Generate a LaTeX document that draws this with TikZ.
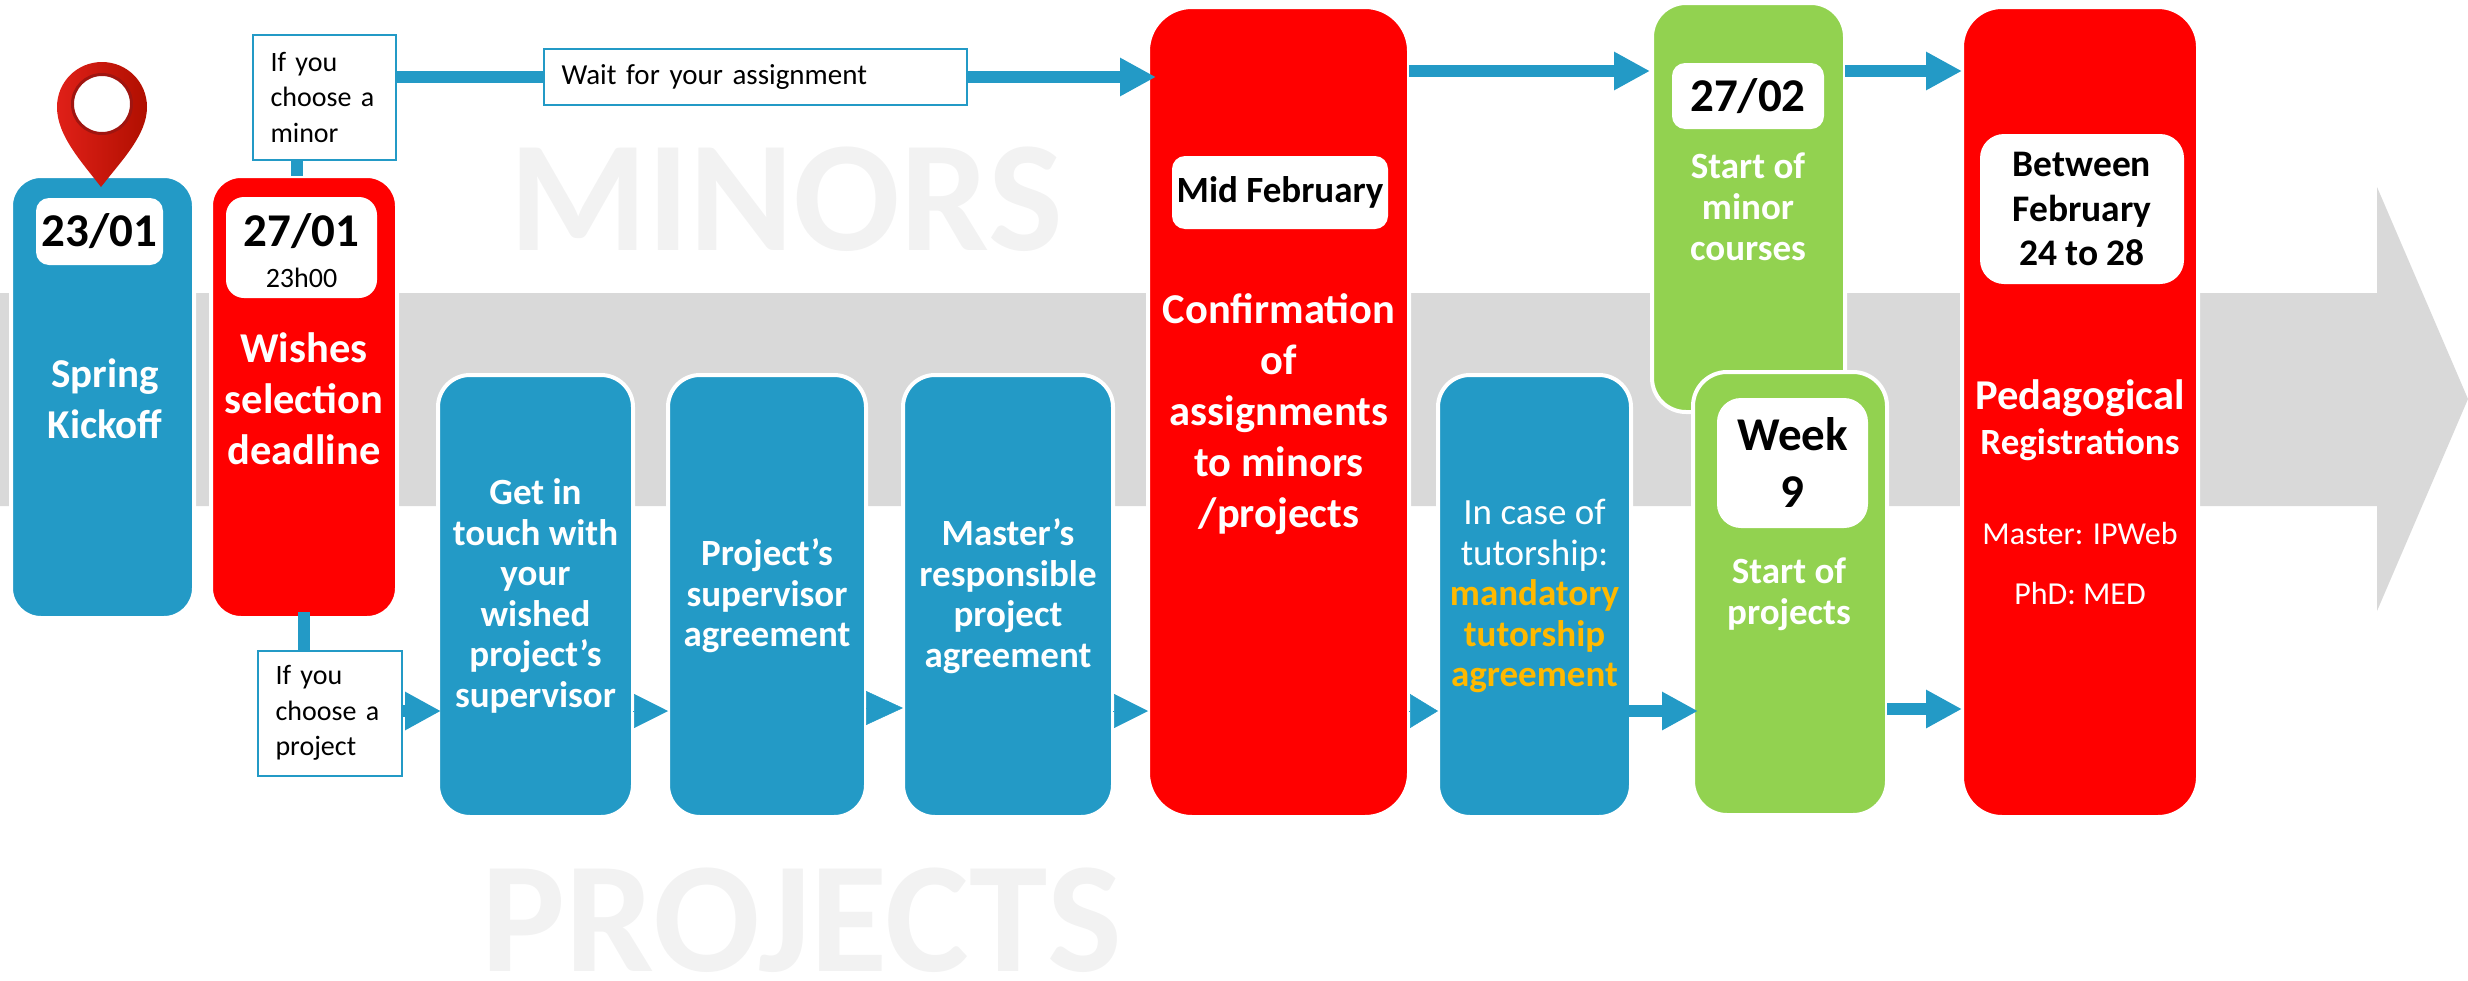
\documentclass[tikz,border=0pt]{standalone}
\usepackage{fontspec}
\setmainfont{Carlito}
\usetikzlibrary{arrows.meta}

\definecolor{stepblue}{HTML}{239AC6}
\definecolor{stepgreen}{HTML}{92D250}
\definecolor{bandgray}{HTML}{D9D9D9}
\definecolor{ghostgray}{HTML}{F2F2F2}
\definecolor{notegold}{HTML}{FFB900}
\definecolor{pinlight}{HTML}{E02018}
\definecolor{pindark}{HTML}{B00F00}
\definecolor{pinring}{HTML}{A01510}

\tikzset{
  stepbox/.style={draw=white, line width=4pt, inner sep=0pt, outer sep=0pt, align=center, text=white,
    font=\fontsize{37}{40.5}\selectfont\bfseries},
  bluebox/.style={stepbox, fill=stepblue, rounded corners=32pt, minimum height=442pt},
  redbox/.style={stepbox, fill=red, rounded corners=40pt},
  greenbox/.style={stepbox, fill=stepgreen, rounded corners=34pt},
  datelabel/.style={fill=white, rounded corners=13pt, inner sep=0pt, outer sep=0pt, align=center,
    font=\fontsize{47}{57}\selectfont\bfseries},
  choicebox/.style={draw=stepblue, line width=2pt, fill=white, inner xsep=18pt, inner ysep=0pt, outer sep=0pt,
    align=left, font=\fontsize{28}{35.5}\selectfont},
  bigtext/.style={text=white, align=center, font=\fontsize{42.5}{51}\selectfont\bfseries},
  midtext/.style={text=white, align=center, font=\fontsize{37}{41}\selectfont\bfseries},
  ghost/.style={text=ghostgray, font=\fontsize{158}{158}\selectfont\bfseries},
  link/.style={draw=stepblue, line width=12pt, -{Triangle[length=36pt,width=36pt]}},
  tiplink/.style={draw=stepblue, line width=0.5pt, -{Triangle[length=#1,width=34pt]}}
}

\begin{document}
\begin{tikzpicture}[x=1pt,y=-1pt]
\useasboundingbox (0,0) rectangle (2468,980);

%Time band
\fill[bandgray] (0,293) -- (2377,293) -- (2377,187) -- (2468,399) -- (2377,611) -- (2377,506) -- (0,506) -- cycle;

%Background words
\node[ghost] (minorsword) at (786,199) {MINORS};
\node[ghost] (projectsword) at (802,920) {PROJECTS};

%Steps
\node[bluebox, minimum width=183pt, rounded corners=30pt] (kickoff) at (102.5,397) {};
\node[redbox, minimum width=186pt, minimum height=442pt, rounded corners=30pt] (wishes) at (304,397) {};
\node[bluebox, minimum width=195pt] (getin) at (535.5,596) {Get in\\touch with\\your\\wished\\project’s\\supervisor};
\node[bluebox, minimum width=198pt] (supagree) at (767,596) {Project’s\\supervisor\\agreement};
\node[bluebox, minimum width=210pt] (masteragree) at (1008,596) {Master’s\\responsible\\project\\agreement};
\node[redbox, minimum width=261pt, minimum height=810pt, rounded corners=44pt] (confirm) at (1278.5,412) {};
\node[bluebox, minimum width=193pt] (tutor) at (1534.5,596) {\mdseries In case of\\\mdseries tutorship:\\\color{notegold}mandatory\\\color{notegold}tutorship\\\color{notegold}agreement};
\node[greenbox, minimum width=193pt, minimum height=409pt] (minorstart) at (1748.5,207.5) {};
\node[greenbox, minimum width=194pt, minimum height=443pt] (projstart) at (1790,593.5) {};
\node[redbox, minimum width=236pt, minimum height=810pt] (pedago) at (2080,412) {};

%Dates
\node[datelabel, minimum width=127pt, minimum height=67pt] (kickdate) at (99.5,231.5) {23/01};
\node[datelabel, minimum width=151pt, minimum height=101pt, rounded corners=18pt] (wishdate) at (301.5,247.5) {\rule{0pt}{40pt}27/01\\[-16pt]\mdseries\fontsize{28}{28}\selectfont 23h00};
\node[datelabel, minimum width=216pt, minimum height=73pt, font=\fontsize{37}{40}\selectfont\bfseries] (confdate) at (1280,192.5) {\raisebox{-3pt}{Mid February}};
\node[datelabel, minimum width=152pt, minimum height=66pt] (minordate) at (1748,96) {27/02};
\node[datelabel, minimum width=151pt, minimum height=130pt, rounded corners=24pt] (projdate) at (1792.5,463) {Week\\9};
\node[datelabel, minimum width=204pt, minimum height=150pt, rounded corners=24pt, font=\fontsize{37.5}{44.5}\selectfont\bfseries] (peddate) at (2082,209) {Between\\February\\24 to 28};

%Step texts
\node[bigtext, font=\fontsize{41}{51}\selectfont\bfseries] (kicktext) at (105,399) {Spring\\Kickoff};
\node[bigtext] (wishtext) at (304,399) {Wishes\\selection\\deadline};
\node[bigtext] (conftext) at (1279,414) {Confirmation\\of\\assignments\\to minors\\/projects};
\node[midtext] (minortext) at (1748,207) {Start of\\minor\\courses};
\node[midtext] (projtext) at (1789,594) {Start of\\projects};
\node[bigtext] (pedtext) at (2080,420) {Pedagogical\\[-6pt]\fontsize{37}{40}\selectfont Registrations};
\node[midtext, font=\fontsize{32}{60}\selectfont] (regtext) at (2080,564) {Master: IPWeb\\PhD: MED};

%Pin
\shade[left color=pinlight, right color=pindark] (101,187) .. controls (80,160) and (57,135) .. (57,107)
  .. controls (57,82) and (77,62) .. (102,62) .. controls (127,62) and (147,82) .. (147,107)
  .. controls (147,135) and (122,160) .. (101,187) -- cycle;
\draw[fill=white, draw=pinring, line width=3pt] (102,104) circle (29.5);

%Choices
\node[choicebox, text width=107pt, minimum height=125pt] (minorchoice) at (324,97) {If you\\choose a\\minor};
\node[choicebox, text width=108pt, minimum height=125pt] (projchoice) at (329.5,713) {If you\\choose a\\project};
\node[choicebox, text width=387pt, minimum height=56pt, font=\fontsize{29}{35.5}\selectfont] (waitnote) at (755,77) {Wait for your assignment};

%Connectors
\coordinate (lane) at (0,711);
\coordinate (minorlane) at (0,71);
\draw[stepblue, line width=12pt] ([xshift=-27.5pt]minorchoice.south) -- ([xshift=-27.5pt]minorchoice.south |- wishes.north);
\draw[stepblue, line width=12pt, shorten <=-6pt] (wishes.south) -- (wishes.south |- projchoice.north);
\draw[stepblue, line width=12pt] (minorchoice.east |- waitnote.west) -- (waitnote.west);
\draw[link, shorten >=-8pt] (waitnote.east) -- (confirm.west |- waitnote.east);
\draw[link, shorten >=2pt] (confirm.east |- minorlane) -- (minorstart.west |- minorlane);
\draw[link] (minorstart.east |- minorlane) -- (pedago.west |- minorlane);
\draw[link, shorten >=-3pt] (projchoice.east |- lane) -- (getin.west |- lane);
\draw[tiplink=34pt] (getin.east |- lane) -- (supagree.west |- lane);
\draw[tiplink=37pt] ([yshift=3pt]supagree.east |- lane) -- ([yshift=3pt]masteragree.west |- lane);
\draw[tiplink=34pt] (masteragree.east |- lane) -- (confirm.west |- lane);
\draw[tiplink=28pt] (confirm.east |- lane) -- (tutor.west |- lane);
\draw[link, shorten <=-3pt, shorten >=-5pt] (tutor.east |- lane) -- (projstart.west |- lane);
\draw[link] ([yshift=2pt]projstart.east |- lane) -- ([yshift=2pt]pedago.west |- lane);

\end{tikzpicture}
\end{document}
